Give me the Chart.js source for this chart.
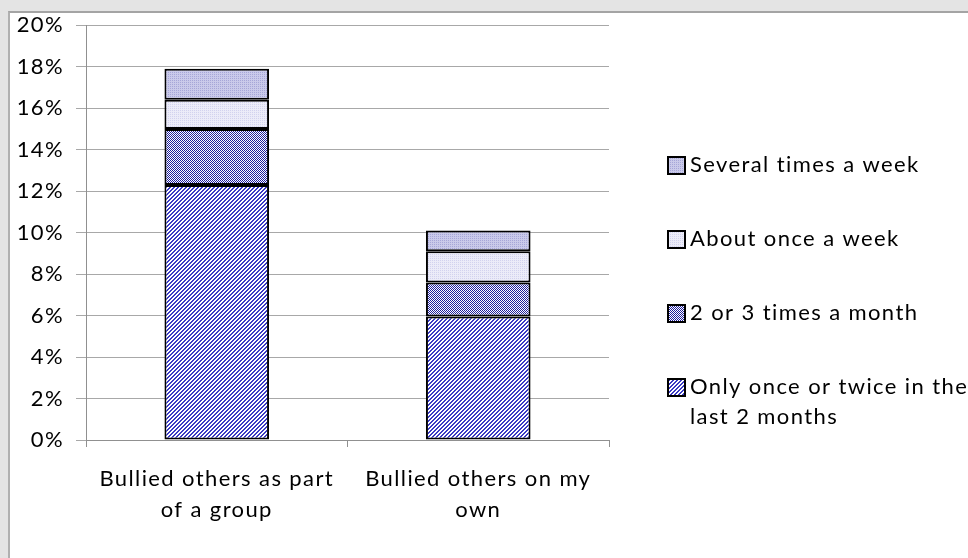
<!DOCTYPE html>
<html>
<head>
<meta charset="utf-8">
<script src="https://cdn.jsdelivr.net/npm/chart.js@4.4.1/dist/chart.umd.min.js"></script>
<style>
  html, body { margin: 0; padding: 0; }
  body { width: 968px; height: 558px; background: #e4e4e4; position: relative; overflow: hidden; }
  #panel { position: absolute; left: 8px; top: 11px; right: 0; bottom: 0; background: #fff;
           border-top: 2px solid #a4a4a4; border-left: 2px solid #b0b0b0; }
  #wrap { position: absolute; left: 0; top: 0; width: 968px; height: 558px; }
</style>
</head>
<body>
<div id="panel"></div>
<div id="wrap"><canvas id="bars" width="968" height="558"></canvas></div>
<script>
// categories and series (fractions of respondents)
const categories = [["Bullied others as part", "of a group"], ["Bullied others on my", "own"]];
const onceTwice = [0.123, 0.0595];
const twoThree = [0.027, 0.0165];
const onceWeek = [0.014, 0.015];
const severalWeek = [0.015, 0.010];
const seriesNames = ["Only once or twice in the last 2 months", "2 or 3 times a month", "About once a week", "Several times a week"];
const legendLines = [["Only once or twice in the", "last 2 months"], ["2 or 3 times a month"], ["About once a week"], ["Several times a week"]];

const FONT = "Lato, Calibri, 'Noto Sans', sans-serif";
const SPACING = "1.4px";

// little pattern tiles like the Excel fills
function makePattern(size, draw) {
  const c = document.createElement("canvas");
  c.width = size; c.height = size;
  const g = c.getContext("2d");
  draw(g, size);
  return document.getElementById("bars").getContext("2d").createPattern(c, "repeat");
}
function px(g, x, y, col) { g.fillStyle = col; g.fillRect(x, y, 1, 1); }

const hatchFill = makePattern(4, (g, s) => {
  g.fillStyle = "#ffffff"; g.fillRect(0, 0, s, s);
  for (let y = 0; y < s; y++) for (let x = 0; x < s; x++) {
    if ((x + y) % 4 === 0 || (x + y) % 4 === 1) px(g, x, y, "#3a3ac4");
  }
});
const checkFill = makePattern(2, (g, s) => {
  g.fillStyle = "#ffffff"; g.fillRect(0, 0, s, s);
  px(g, 0, 0, "#1e1e9c");
  px(g, 1, 1, "#1e1e9c");
});
const lightFill = makePattern(2, (g, s) => {
  g.fillStyle = "#ececf8"; g.fillRect(0, 0, s, s);
  px(g, 0, 0, "#d2d2ee");
});
const midFill = makePattern(2, (g, s) => {
  g.fillStyle = "#cacaea"; g.fillRect(0, 0, s, s);
  px(g, 0, 0, "#a6a6d8");
});
const fills = [hatchFill, checkFill, lightFill, midFill];

const spacing = {
  id: "spacing",
  afterInit(chart) { chart.ctx.letterSpacing = SPACING; },
  beforeLayout(chart) { chart.ctx.letterSpacing = SPACING; },
  beforeDraw(chart) { chart.ctx.letterSpacing = SPACING; }
};

const sideLegend = {
  id: "sideLegend",
  afterDraw(chart) {
    const ctx = chart.ctx;
    const rows = [387, 313, 239, 165];
    ctx.save();
    ctx.font = "22px " + FONT;
    ctx.textBaseline = "middle";
    for (let i = 0; i < seriesNames.length; i++) {
      const y = rows[i];
      ctx.fillStyle = fills[i];
      ctx.fillRect(668, y - 8, 17, 17);
      ctx.strokeStyle = "#000";
      ctx.lineWidth = 2;
      ctx.strokeRect(668, y - 8, 17, 17);
      ctx.fillStyle = "#000";
      legendLines[i].forEach((t, k) => ctx.fillText(t, 690, y + k * 30));
    }
    ctx.restore();
  }
};

const ds = (label, data, fill) => ({
  label: label, data: data, backgroundColor: fill,
  borderColor: "#000", borderWidth: 2, borderSkipped: false,
  categoryPercentage: 1, barPercentage: 0.4
});

new Chart(document.getElementById("bars"), {
  type: "bar",
  data: {
    labels: categories,
    datasets: [
      ds(seriesNames[0], onceTwice, hatchFill),
      ds(seriesNames[1], twoThree, checkFill),
      ds(seriesNames[2], onceWeek, lightFill),
      ds(seriesNames[3], severalWeek, midFill)
    ]
  },
  options: {
    responsive: false,
    animation: false,
    events: [],
    layout: { padding: { top: 21, right: 359, left: 0, bottom: 0 } },
    plugins: { legend: { display: false }, tooltip: { enabled: false } },
    scales: {
      x: {
        stacked: true,
        afterFit(s) { s.height = 118; },
        grid: { drawOnChartArea: false, drawTicks: true, tickLength: 7, color: "#909090", offset: true },
        border: { color: "#909090", width: 1 },
        ticks: { color: "#000", padding: 16, font: { family: FONT, size: 22, lineHeight: 1.41 } }
      },
      y: {
        stacked: true,
        min: 0, max: 0.2,
        afterFit(s) { s.width = 86; },
        grid: { color: "#a8a8a8", tickLength: 10, lineWidth: 1 },
        border: { color: "#909090", width: 1 },
        ticks: {
          stepSize: 0.02, color: "#000", padding: 12,
          font: { family: FONT, size: 22 },
          callback: v => Math.round(v * 100) + "%"
        }
      }
    }
  },
  plugins: [spacing, sideLegend]
});
</script>
</body>
</html>
